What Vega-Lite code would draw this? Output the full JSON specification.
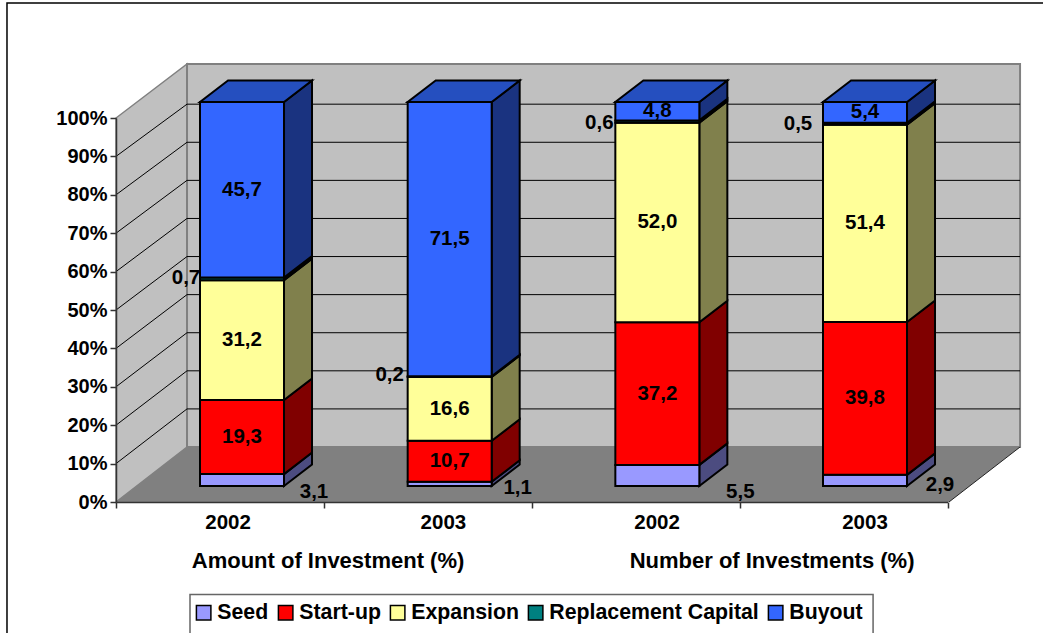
{
"$schema":"https://vega.github.io/schema/vega-lite/v6.json",
"width":1043,"height":633,"padding":0,"autosize":"none","background":"white",
"view":{"stroke":null},
"config":{"font":"Liberation Sans","text":{"font":"Liberation Sans","fontWeight":"bold","fontSize":20.5,"color":"black"}},
"datasets":{
"bars":[
{"group":"Amount of Investment (%)","year":"2002","cat":0,"series":"Seed","order":1,"value":3.1},
{"group":"Amount of Investment (%)","year":"2002","cat":0,"series":"Start-up","order":2,"value":19.3},
{"group":"Amount of Investment (%)","year":"2002","cat":0,"series":"Expansion","order":3,"value":31.2},
{"group":"Amount of Investment (%)","year":"2002","cat":0,"series":"Replacement Capital","order":4,"value":0.7},
{"group":"Amount of Investment (%)","year":"2002","cat":0,"series":"Buyout","order":5,"value":45.7},
{"group":"Amount of Investment (%)","year":"2003","cat":1,"series":"Seed","order":1,"value":1.1},
{"group":"Amount of Investment (%)","year":"2003","cat":1,"series":"Start-up","order":2,"value":10.7},
{"group":"Amount of Investment (%)","year":"2003","cat":1,"series":"Expansion","order":3,"value":16.6},
{"group":"Amount of Investment (%)","year":"2003","cat":1,"series":"Replacement Capital","order":4,"value":0.2},
{"group":"Amount of Investment (%)","year":"2003","cat":1,"series":"Buyout","order":5,"value":71.5},
{"group":"Number of Investments (%)","year":"2002","cat":2,"series":"Seed","order":1,"value":5.5},
{"group":"Number of Investments (%)","year":"2002","cat":2,"series":"Start-up","order":2,"value":37.2},
{"group":"Number of Investments (%)","year":"2002","cat":2,"series":"Expansion","order":3,"value":52.0},
{"group":"Number of Investments (%)","year":"2002","cat":2,"series":"Replacement Capital","order":4,"value":0.6},
{"group":"Number of Investments (%)","year":"2002","cat":2,"series":"Buyout","order":5,"value":4.8},
{"group":"Number of Investments (%)","year":"2003","cat":3,"series":"Seed","order":1,"value":2.9},
{"group":"Number of Investments (%)","year":"2003","cat":3,"series":"Start-up","order":2,"value":39.8},
{"group":"Number of Investments (%)","year":"2003","cat":3,"series":"Expansion","order":3,"value":51.4},
{"group":"Number of Investments (%)","year":"2003","cat":3,"series":"Replacement Capital","order":4,"value":0.5},
{"group":"Number of Investments (%)","year":"2003","cat":3,"series":"Buyout","order":5,"value":5.4}
],
"depth":[{"d":0},{"d":1}],
"levels":[{"level":10},{"level":20},{"level":30},{"level":40},{"level":50},{"level":60},{"level":70},{"level":80},{"level":90}],
"years":[{"year":"2002","cat":0},{"year":"2003","cat":1},{"year":"2002","cat":2},{"year":"2003","cat":3}],
"groups":[{"label":"Amount of Investment (%)","g":0},{"label":"Number of Investments (%)","g":1}]
},
"encoding":{
"x":{"field":"xp","type":"quantitative","title":null,"scale":{"domain":[0,4],"range":[116,947.5],"nice":false,"zero":false},
 "axis":{"orient":"bottom","offset":-131,"values":[0,1,2,3,4],"labels":false,"grid":false,"tickSize":6,"tickColor":"#333333","domainColor":"#333333","domainWidth":1.5,"tickWidth":1.5,"title":null,"zindex":1}},
"y":{"field":"yp","type":"quantitative","title":null,"scale":{"domain":[0,100],"range":[502,118],"nice":false,"zero":false},
 "axis":{"orient":"left","offset":-116,"values":[0,10,20,30,40,50,60,70,80,90,100],"labelExpr":"datum.label+'%'","labelFont":"Liberation Sans","labelFontWeight":"bold","labelFontSize":20,"labelColor":"black","labelPadding":3,"grid":false,"tickSize":6,"tickColor":"#333333","domainColor":"#333333","domainWidth":1.5,"tickWidth":1.5,"title":null,"zindex":1}}
},
"layer":[
{"data":{"values":[{"box":"frame"}]},
 "transform":[{"calculate":"-0.5244","as":"xp"},{"calculate":"5","as":"xp2"},{"calculate":"129.95","as":"yp"},{"calculate":"-50","as":"yp2"}],
 "mark":{"type":"rect","fill":null,"stroke":"black","strokeWidth":1.5,"clip":false},
 "encoding":{"x2":{"field":"xp2"},"y2":{"field":"yp2"}}},
{"data":{"values":[{"box":"legend"}]},
 "transform":[{"calculate":"0.356","as":"xp"},{"calculate":"3.642","as":"xp2"},{"calculate":"-24.1","as":"yp"},{"calculate":"-40","as":"yp2"}],
 "mark":{"type":"rect","fill":null,"stroke":"#666666","strokeWidth":1.5},
 "encoding":{"x2":{"field":"xp2"},"y2":{"field":"yp2"}}},
{"data":{"name":"depth"},
 "transform":[{"calculate":"datum.d*0.3416","as":"xp"},{"calculate":"datum.d*14.32","as":"yp"},{"calculate":"100+datum.d*14.06","as":"yp2"}],
 "mark":{"type":"area","fill":"#C0C0C0","stroke":"#808080","strokeWidth":1.5,"orient":"vertical"},
 "encoding":{"y2":{"field":"yp2"}}},
{"data":{"values":[{"box":"wall"}]},
 "transform":[{"calculate":"0.3416","as":"xp"},{"calculate":"4.349","as":"xp2"},{"calculate":"14.32","as":"yp"},{"calculate":"114.06","as":"yp2"}],
 "mark":{"type":"rect","fill":"#C0C0C0","stroke":"#808080","strokeWidth":2},
 "encoding":{"x2":{"field":"xp2"},"y2":{"field":"yp2"}}},
{"data":{"name":"depth"},
 "transform":[{"calculate":"datum.d*0.3416","as":"xp"},{"calculate":"4.007+datum.d*0.342","as":"xp2"},{"calculate":"datum.d*14.32","as":"yp"}],
 "mark":{"type":"area","fill":"#808080","orient":"horizontal"},
 "encoding":{"x2":{"field":"xp2"}}},
{"data":{"name":"levels"},
 "transform":[{"calculate":"[0,0.3416,4.349]","as":"gx"},{"calculate":"[0,1,1]","as":"gd"},{"flatten":["gx","gd"]},{"calculate":"datum.gx","as":"xp"},{"calculate":"datum.level+datum.gd*(14.32-0.008*datum.level)","as":"yp"}],
 "mark":{"type":"line","stroke":"black","strokeWidth":1},
 "encoding":{"detail":{"field":"level"}}},
{"data":{"name":"depth"},
 "transform":[{"calculate":"4.007+datum.d*0.342","as":"xp"},{"calculate":"datum.d*14.32","as":"yp"}],
 "mark":{"type":"line","stroke":"#222222","strokeWidth":1}},
{"data":{"name":"bars"},
 "transform":[
  {"stack":"value","groupby":["cat"],"sort":[{"field":"order","order":"ascending"}],"offset":"normalize","as":["n0","n1"]},
  {"calculate":"0.4041+datum.cat*0.999","as":"xl"},
  {"calculate":"datum.xl+0.4041","as":"xr"},
  {"calculate":"datum.n0*100+4.17","as":"ylo"},
  {"calculate":"datum.n1*100+4.17","as":"yhi"},
  {"calculate":"(datum.xl+datum.xr)/2","as":"xc"},
  {"calculate":"(datum.ylo+datum.yhi)/2","as":"ym"},
  {"calculate":"replace(format(datum.value,'.1f'),'.',',')","as":"lab"}
 ],
 "layer":[
  {"transform":[{"calculate":"[0,1]","as":"d"},{"flatten":["d"]},{"calculate":"datum.xr+datum.d*0.1347","as":"xp"},{"calculate":"datum.ylo+datum.d*5.6","as":"yp"},{"calculate":"datum.yhi+datum.d*5.6","as":"yp2"}],
   "mark":{"type":"area","stroke":"black","strokeWidth":2,"orient":"vertical"},
   "encoding":{"y2":{"field":"yp2"},"detail":{"field":"cat"},
    "fill":{"field":"series","type":"nominal","legend":null,"scale":{"domain":["Buyout","Replacement Capital","Expansion","Start-up","Seed"],"range":["#1A3380","#004040","#80804C","#800000","#4C4C80"]}}}},
  {"transform":[{"filter":"datum.order==5"},{"calculate":"[0,1]","as":"d"},{"flatten":["d"]},{"calculate":"datum.xl+datum.d*0.1347","as":"xp"},{"calculate":"datum.xr+datum.d*0.1347","as":"xp2"},{"calculate":"datum.yhi+datum.d*5.6","as":"yp"}],
   "mark":{"type":"area","fill":"#254FBF","stroke":"black","strokeWidth":2,"orient":"horizontal"},
   "encoding":{"x2":{"field":"xp2"},"detail":{"field":"cat"}}},
  {"transform":[{"calculate":"datum.xl","as":"xp"},{"calculate":"datum.xr","as":"xp2"},{"calculate":"datum.ylo","as":"yp"},{"calculate":"datum.yhi","as":"yp2"}],
   "mark":{"type":"rect","stroke":"black","strokeWidth":2},
   "encoding":{"x2":{"field":"xp2"},"y2":{"field":"yp2"},
    "color":{"field":"series","type":"nominal","title":null,
     "scale":{"domain":["Seed","Start-up","Expansion","Replacement Capital","Buyout"],"range":["#9999FF","#FF0000","#FFFF99","#008080","#3366FF"]},
     "legend":{"orient":"none","legendX":189,"legendY":598,"direction":"horizontal","columns":5,"title":null,"padding":4,"zindex":2,"symbolType":"square","symbolSize":210,"symbolStrokeColor":"black","symbolStrokeWidth":1.5,"symbolOpacity":1,"labelFont":"Liberation Sans","labelFontWeight":"bold","labelFontSize":21.3,"labelColor":"black","labelOffset":3,"columnPadding":6,"labelLimit":400}}}},
  {"transform":[{"filter":"datum.order==2||datum.order==3||datum.order==5"},{"calculate":"datum.xc","as":"xp"},{"calculate":"datum.ym","as":"yp"}],
   "mark":{"type":"text","dy":0},"encoding":{"text":{"field":"lab"}}},
  {"transform":[{"filter":"datum.order==1&&datum.cat==0"},{"calculate":"datum.xc","as":"xp"},{"calculate":"datum.ym","as":"yp"}],"mark":{"type":"text","dx":72,"dy":11.6},"encoding":{"text":{"field":"lab"}}},
  {"transform":[{"filter":"datum.order==1&&datum.cat==1"},{"calculate":"datum.xc","as":"xp"},{"calculate":"datum.ym","as":"yp"}],"mark":{"type":"text","dx":68,"dy":4},"encoding":{"text":{"field":"lab"}}},
  {"transform":[{"filter":"datum.order==1&&datum.cat==2"},{"calculate":"datum.xc","as":"xp"},{"calculate":"datum.ym","as":"yp"}],"mark":{"type":"text","dx":83,"dy":16.6},"encoding":{"text":{"field":"lab"}}},
  {"transform":[{"filter":"datum.order==1&&datum.cat==3"},{"calculate":"datum.xc","as":"xp"},{"calculate":"datum.ym","as":"yp"}],"mark":{"type":"text","dx":75,"dy":4.6},"encoding":{"text":{"field":"lab"}}},
  {"transform":[{"filter":"datum.order==4&&datum.cat==0"},{"calculate":"datum.xc","as":"xp"},{"calculate":"datum.ym","as":"yp"}],"mark":{"type":"text","dx":-56,"dy":-1},"encoding":{"text":{"field":"lab"}}},
  {"transform":[{"filter":"datum.order==4&&datum.cat==1"},{"calculate":"datum.xc","as":"xp"},{"calculate":"datum.ym","as":"yp"}],"mark":{"type":"text","dx":-60,"dy":-1.6},"encoding":{"text":{"field":"lab"}}},
  {"transform":[{"filter":"datum.order==4&&datum.cat==2"},{"calculate":"datum.xc","as":"xp"},{"calculate":"datum.ym","as":"yp"}],"mark":{"type":"text","dx":-58,"dy":1},"encoding":{"text":{"field":"lab"}}},
  {"transform":[{"filter":"datum.order==4&&datum.cat==3"},{"calculate":"datum.xc","as":"xp"},{"calculate":"datum.ym","as":"yp"}],"mark":{"type":"text","dx":-67,"dy":0.5},"encoding":{"text":{"field":"lab"}}}
 ]},
{"data":{"name":"years"},
 "transform":[{"calculate":"[0.539,1.575,2.603,3.603][datum.cat]","as":"xp"},{"calculate":"-5.47","as":"yp"}],
 "mark":{"type":"text"},"encoding":{"text":{"field":"year"}}},
{"data":{"name":"groups"},
 "transform":[{"calculate":"1.02+datum.g*2.136","as":"xp"},{"calculate":"-15.4","as":"yp"}],
 "mark":{"type":"text","fontSize":22},"encoding":{"text":{"field":"label"}}}
]
}
